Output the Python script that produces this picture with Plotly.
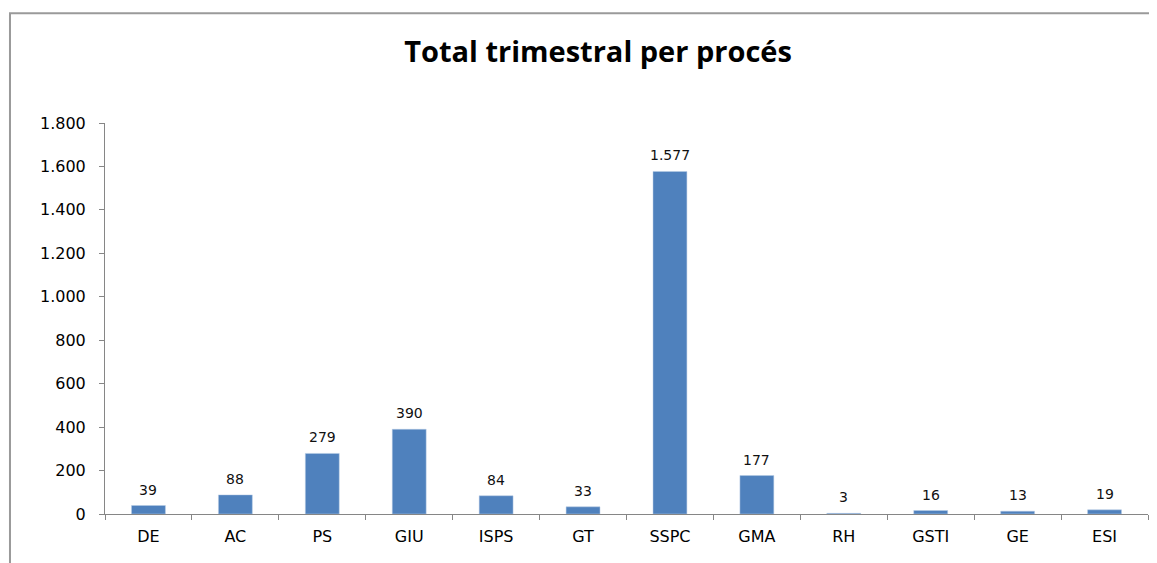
import plotly.graph_objects as go

processes = ["DE", "AC", "PS", "GIU", "ISPS", "GT", "SSPC", "GMA", "RH", "GSTI", "GE", "ESI"]
totals = [39, 88, 279, 390, 84, 33, 1577, 177, 3, 16, 13, 19]
y_ticks = [0, 200, 400, 600, 800, 1000, 1200, 1400, 1600, 1800]

BAR_BLUE = "#4F81BD"
AXIS_GREY = "#868686"


def fmt(v):
    # Catalan style: dot as thousands separator
    return f"{v:,}".replace(",", ".")


fig = go.Figure()
fig.add_trace(go.Bar(
    x=processes, y=totals,
    marker=dict(color=BAR_BLUE, line=dict(color="#B9CDE5", width=0.5)),
    hovertemplate="%{x}: %{y}<extra></extra>",
))

# data labels sit a little above each bar
for p, v in zip(processes, totals):
    fig.add_annotation(
        x=p, y=v, text=fmt(v), showarrow=False,
        yanchor="bottom", yshift=6,
        font=dict(family="DejaVu Sans", size=14, color="#111111"),
    )

fig.update_layout(
    width=1157, height=563,
    margin=dict(l=97, r=17, t=115, b=57),
    paper_bgcolor="white", plot_bgcolor="white",
    separators=",.",
    showlegend=False,
    bargap=0.61,
    title=dict(
        text="<b>Total trimestral per procés</b>",
        x=0.51, xanchor="center", y=0.922, yanchor="middle",
        font=dict(family="Open Sans", size=29, color="black"),
    ),
    shapes=[dict(
        type="rect", xref="paper", yref="paper",
        x0=-0.0911, x1=1.05, y0=-0.3, y1=1.281,
        line=dict(color="#9A9A9A", width=2), layer="below",
    )],
)

fig.update_xaxes(
    showline=True, linecolor=AXIS_GREY, linewidth=1,
    ticks="outside", tickson="boundaries", ticklen=5, tickcolor=AXIS_GREY,
    ticklabelstandoff=8,
    tickfont=dict(family="DejaVu Sans", size=16, color="black"),
    showgrid=False,
)
fig.update_yaxes(
    range=[0, 1800], tickvals=y_ticks, ticktext=[fmt(t) for t in y_ticks],
    showline=True, linecolor=AXIS_GREY, linewidth=1,
    ticks="outside", ticklen=5, tickcolor=AXIS_GREY,
    ticklabelstandoff=10,
    tickfont=dict(family="DejaVu Sans", size=16, color="black"),
    showgrid=False, zeroline=False,
)

fig.write_html("out.html")
